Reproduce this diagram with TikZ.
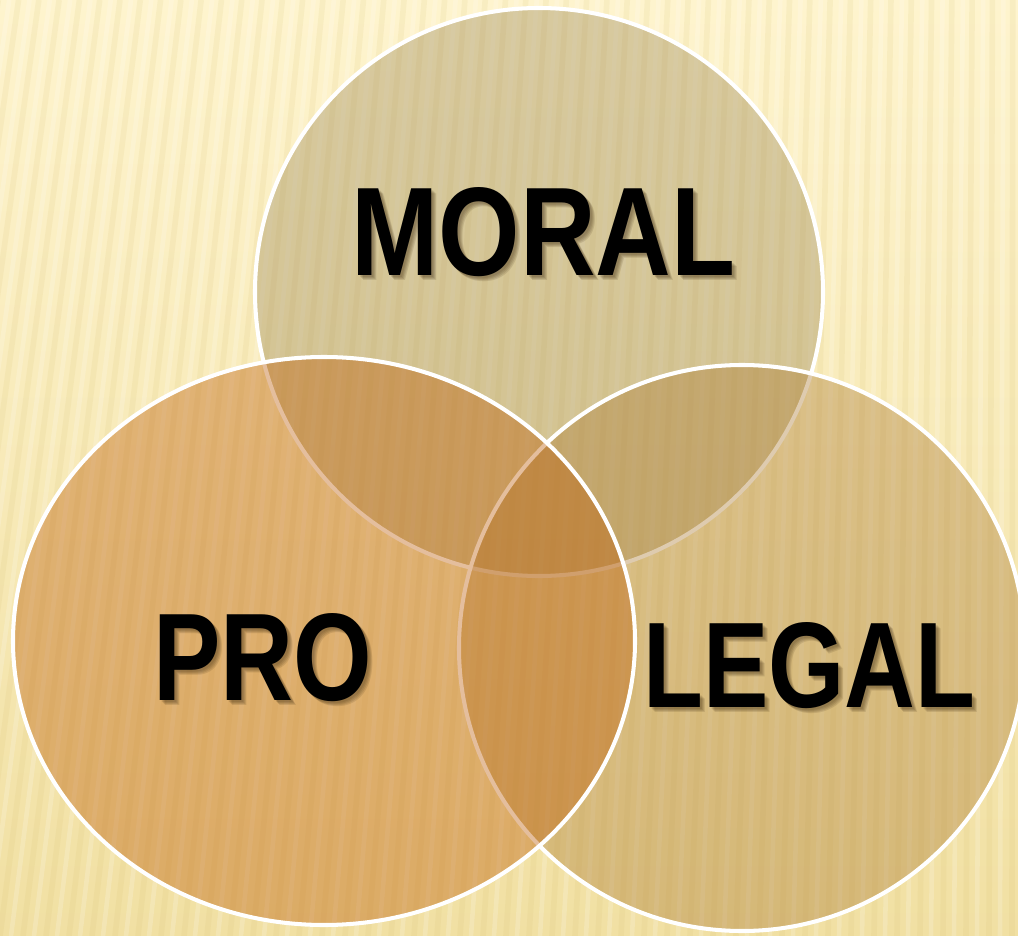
\documentclass[tikz,border=0pt]{standalone}
\usepackage{fontspec}
\setmainfont{Liberation Sans}
\usepackage{graphicx}
\definecolor{bgtop}{RGB}{254,244,206}
\definecolor{bgbot}{RGB}{241,224,163}
\definecolor{cmoral}{RGB}{158,138,88}
\definecolor{clegal}{RGB}{173,126,56}
\definecolor{cpro}{RGB}{188,93,10}
\definecolor{stripedark}{RGB}{215,190,110}
\definecolor{shadowc}{RGB}{70,50,20}
\begin{document}
\begin{tikzpicture}[x=0.02cm,y=-0.02cm,
  venn/.style={draw=white, line width=2.3pt, fill opacity=0.4, draw opacity=1},
  lbl/.style={inner sep=0pt, anchor=base west, font=\bfseries, text=black},
  shd/.style={lbl, text=shadowc, text opacity=0.14}]
\useasboundingbox (0,0) rectangle (1018,936);
\shade[top color=bgtop, bottom color=bgbot] (0,0) rectangle (1018,936);
\begin{scope}
  \clip (0,0) rectangle (1018,936);
  \foreach \i in {-8,...,46} {
    \pgfmathsetmacro\xx{\i*23}
    \pgfmathsetmacro\off{120*(1-\xx/1018)}
    \draw[stripedark, opacity=0.13, line width=3.2pt] (\xx+\off,0) -- (\xx,936);
    \draw[white, opacity=0.18, line width=2.6pt] (\xx+\off+11,0) -- (\xx+11,936);
  }
\end{scope}
% circles: MORAL, LEGAL, PRO (drawing order matters)
\filldraw[venn, fill=cmoral] (539,292) circle [radius=284];
\filldraw[venn, fill=clegal] (742,648) circle [radius=283];
\filldraw[venn, fill=cpro] (324,641) ellipse [x radius=311, y radius=284];
% soft shadows of the labels
\foreach \d in {2,3,4,5} {
  \node[shd] (ms\d) at (351+\d,275+\d) {\resizebox{7.68cm}{1.76cm}{MORAL}};
  \node[shd] (ps\d) at (153+\d,700+\d) {\resizebox{4.38cm}{1.74cm}{PRO}};
  \node[shd] (ls\d) at (643+\d,707+\d) {\resizebox{6.64cm}{1.70cm}{LEGAL}};
}
% labels
\node[lbl] (moral) at (351,275) {\resizebox{7.68cm}{1.76cm}{MORAL}};
\node[lbl] (pro) at (153,700) {\resizebox{4.38cm}{1.74cm}{PRO}};
\node[lbl] (legal) at (643,707) {\resizebox{6.64cm}{1.70cm}{LEGAL}};
\end{tikzpicture}
\end{document}
